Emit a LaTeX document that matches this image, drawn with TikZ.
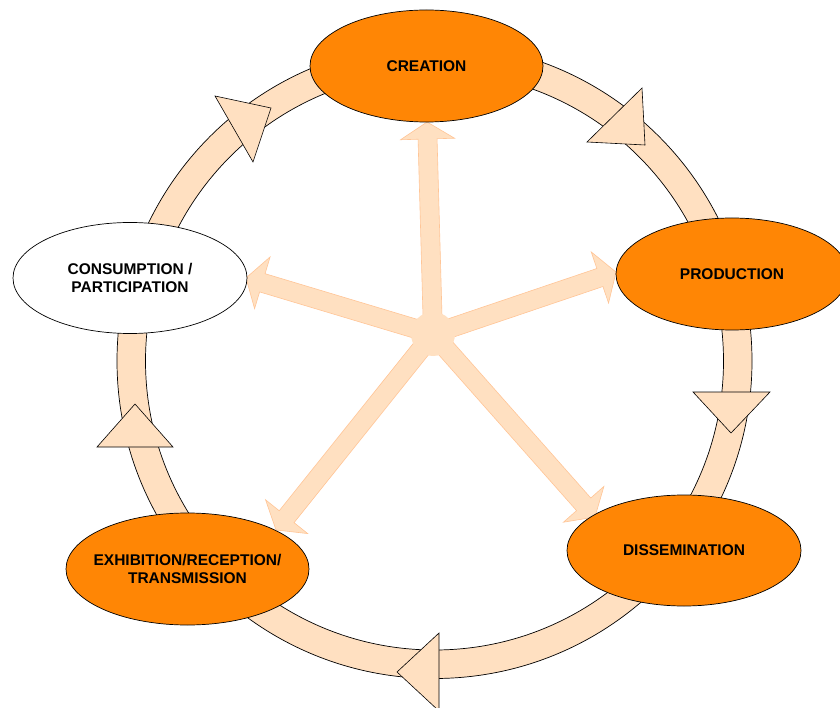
\documentclass[tikz,border=0pt]{standalone}
\usepackage{fontspec}
\setmainfont{Liberation Sans}
\definecolor{peach}{HTML}{FFE0C1}
\definecolor{peachline}{HTML}{FFC596}
\definecolor{stageorange}{HTML}{FF8605}
\tikzset{
  stageshape/.style={draw=black, line width=0.7pt},
  stagetext/.style={inner sep=0pt, align=center,
    font=\fontsize{15.5}{18}\selectfont\bfseries, text=black},
  ringtri/.style={fill=peach, draw=black, line width=0.6pt, line join=miter},
  starrow/.style={fill=peach, draw=peachline, line width=0.6pt, line join=miter}
}
\begin{document}
\begin{tikzpicture}[x=1pt,y=-1pt]
\clip (0,0) rectangle (840,708);
\fill[white] (0,0) rectangle (840,708);
% ring
\coordinate (O) at (434.5,361);
\fill[peach, even odd rule] (O) circle (317.5) (O) circle (289);
\draw[black, line width=0.7pt] (O) circle (317.5) (O) circle (289);
% ring arrowheads
\draw[ringtri] (215,96) -- (271,108) -- (253,162) -- cycle;
\draw[ringtri] (642,88) -- (645,145) -- (587,142) -- cycle;
\draw[ringtri] (693,392) -- (770,392) -- (731,433) -- cycle;
\draw[ringtri] (439,633) -- (439,711) -- (397,672) -- cycle;
\draw[ringtri] (97,447) -- (173,447) -- (135,404) -- cycle;
% central star arrows
\coordinate (C) at (433,334);
\foreach \ang/\len in {91.6/212.1, 18.7/193.2, 163.3/195.2, 231.3/251.1, 311.5/244.4}{
  \draw[starrow, shift={(C)}, rotate=\ang]
    (0,-9.5) -- (\len-17,-9.5) -- (\len-17,-27) -- (\len,0) -- (\len-17,27)
    -- (\len-17,9.5) -- (0,9.5) -- cycle;
}
\fill[peach] (C) circle (22);
% stages
\draw[stageshape, fill=stageorange] (426.5,66) ellipse [x radius=116.5, y radius=56];
\node[stagetext] (creation) at (426.5,66) {CREATION};
\draw[stageshape, fill=stageorange] (732,274) ellipse [x radius=116, y radius=56];
\node[stagetext] (production) at (732,274) {PRODUCTION};
\draw[stageshape, fill=stageorange] (684,550.5) ellipse [x radius=117, y radius=55.5];
\node[stagetext] (dissemination) at (684,550.5) {DISSEMINATION};
\draw[stageshape, fill=stageorange] (187.5,569) ellipse [x radius=121.5, y radius=56];
\node[stagetext] (exhibition) at (187.5,569) {EXHIBITION/RECEPTION/\\TRANSMISSION};
\draw[stageshape, fill=white] (130,278) ellipse [x radius=117, y radius=55.5];
\node[stagetext] (consumption) at (130,278) {CONSUMPTION /\\PARTICIPATION};
\end{tikzpicture}
\end{document}
